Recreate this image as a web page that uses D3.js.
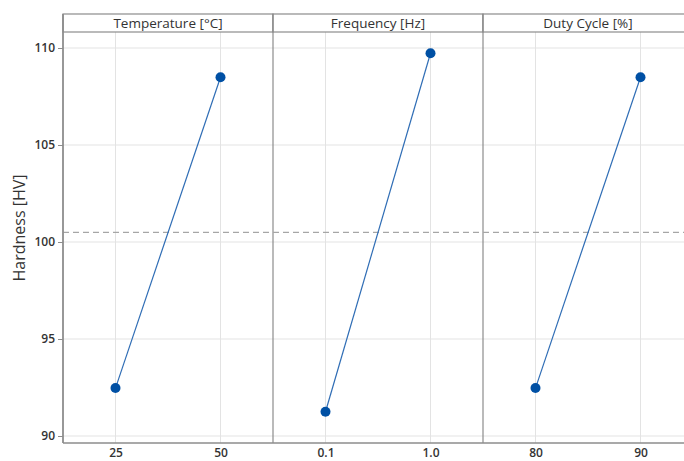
<!DOCTYPE html>
<html>
<head>
<meta charset="utf-8">
<script src="https://cdn.jsdelivr.net/npm/d3@7"></script>
<style>
  body { margin: 0; background: #fff; }
  svg { display: block; font-family: "Open Sans", "Noto Sans", sans-serif; }
</style>
</head>
<body>
<svg id="chart"></svg>
<script>
// factor names and their levels
var factors = ["Temperature [°C]", "Frequency [Hz]", "Duty Cycle [%]"];
var levels = [["25", "50"], ["0.1", "1.0"], ["80", "90"]];
// mean hardness per level
var means = [[92.47, 108.49], [91.25, 109.73], [92.47, 108.49]];
var grandMean = 100.5;
var yTicks = [90, 95, 100, 105, 110];

var width = 684, height = 461;
var mLeft = 63, mTop = 14, stripH = 18, mBottom = 443, panelW = 210;

var svg = d3.select("#chart").attr("width", width).attr("height", height);

var y = d3.scaleLinear().domain([90, 110]).range([436, 48]);

// panel x scale
var px = d3.scaleBand().domain(factors).range([mLeft, mLeft + panelW * 3]);

// horizontal grid across all panels
svg.append("g").selectAll("line")
    .data(yTicks).enter().append("line")
    .attr("x1", mLeft).attr("x2", mLeft + panelW * 3)
    .attr("y1", function (d) { return y(d); })
    .attr("y2", function (d) { return y(d); })
    .style("stroke", "#e3e3e3").style("stroke-width", 1);

factors.forEach(function (f, i) {
    var x0 = px(f);
    var x = d3.scalePoint().domain(levels[i]).range([x0, x0 + panelW]).padding(0.5);
    var g = svg.append("g");

    // vertical grid
    g.selectAll("line.vg").data(levels[i]).enter().append("line")
        .attr("class", "vg")
        .attr("x1", function (d) { return x(d); }).attr("x2", function (d) { return x(d); })
        .attr("y1", mTop + stripH).attr("y2", mBottom)
        .style("stroke", "#e3e3e3");

    // strip header
    g.append("rect")
        .attr("x", x0).attr("y", mTop).attr("width", panelW).attr("height", stripH)
        .style("fill", "#fff").style("stroke", "#8c8c8c").style("stroke-width", 1.2);
    g.append("text")
        .attr("x", x0 + panelW / 2).attr("y", mTop + 14)
        .attr("text-anchor", "middle")
        .style("font-size", "13.5px").style("fill", "#333")
        .text(f);

    // panel border
    g.append("line")
        .attr("x1", x0).attr("x2", x0).attr("y1", mTop).attr("y2", mBottom)
        .style("stroke", "#8c8c8c").style("stroke-width", 1.2);

    // bottom axis
    var xAxis = g.append("g").attr("transform", "translate(0," + mBottom + ")")
        .call(d3.axisBottom(x).tickSize(0).tickPadding(5));
    xAxis.select(".domain").remove();
    xAxis.selectAll("text").style("font-size", "12px").style("font-weight", 600)
        .style("fill", "#333").style("font-family", "\"Open Sans\", sans-serif");
});

// grand mean dashed line
svg.append("line")
    .attr("x1", mLeft).attr("x2", mLeft + panelW * 3)
    .attr("y1", y(grandMean)).attr("y2", y(grandMean))
    .style("stroke", "#a6a6a6").style("stroke-width", 1.2)
    .style("stroke-dasharray", "6,4");

// mean lines and points
factors.forEach(function (f, i) {
    var x0 = px(f);
    var x = d3.scalePoint().domain(levels[i]).range([x0, x0 + panelW]).padding(0.5);
    var pts = levels[i].map(function (l, j) { return [x(l), y(means[i][j])]; });
    svg.append("path")
        .attr("d", d3.line()(pts))
        .style("fill", "none").style("stroke", "#2f6db5").style("stroke-width", 1.2);
    svg.append("g").selectAll("circle").data(pts).enter().append("circle")
        .attr("cx", function (d) { return d[0]; })
        .attr("cy", function (d) { return d[1]; })
        .attr("r", 5)
        .style("fill", "#0050a4");
});

// bottom and left frame
svg.append("line")
    .attr("x1", mLeft).attr("x2", mLeft + panelW * 3).attr("y1", mBottom).attr("y2", mBottom)
    .style("stroke", "#8c8c8c").style("stroke-width", 1.5);

var yAxis = svg.append("g").attr("transform", "translate(" + mLeft + ",0)")
    .call(d3.axisLeft(y).tickValues(yTicks).tickSize(5).tickPadding(3));
yAxis.select(".domain").remove();
yAxis.selectAll("line").style("stroke", "#8c8c8c");
yAxis.selectAll("text").style("font-size", "12px").style("font-weight", 600)
    .style("fill", "#333").style("font-family", "\"Open Sans\", sans-serif");

svg.append("line")
    .attr("x1", mLeft).attr("x2", mLeft).attr("y1", mTop).attr("y2", mBottom)
    .style("stroke", "#8c8c8c").style("stroke-width", 1.5);

// y title
svg.append("text")
    .attr("transform", "translate(25,228) rotate(-90)")
    .attr("text-anchor", "middle")
    .style("font-size", "16px").style("fill", "#333")
    .text("Hardness [HV]");
</script>
</body>
</html>
